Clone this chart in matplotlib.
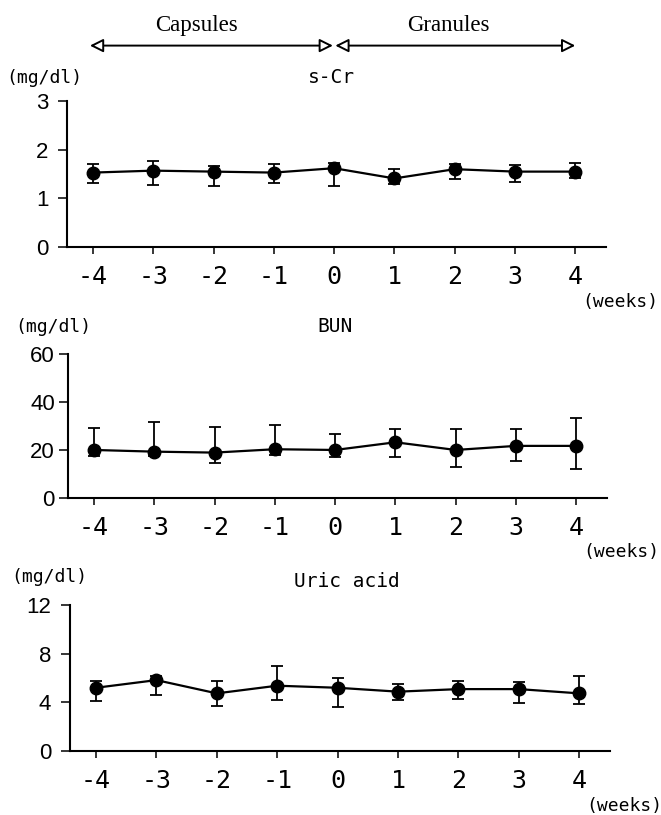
import matplotlib
matplotlib.use("Agg")
import matplotlib.pyplot as plt

# weeks relative to switch from capsules to granules
weeks = [-4, -3, -2, -1, 0, 1, 2, 3, 4]

scr_mean = [1.53, 1.57, 1.55, 1.53, 1.62, 1.41, 1.60, 1.55, 1.55]
scr_upper = [1.70, 1.77, 1.66, 1.70, 1.72, 1.60, 1.70, 1.68, 1.73]
scr_lower = [1.32, 1.27, 1.25, 1.31, 1.25, 1.30, 1.39, 1.33, 1.42]

bun_mean = [20.0, 19.3, 18.9, 20.3, 20.0, 23.2, 20.0, 21.7, 21.7]
bun_upper = [29.3, 31.8, 29.4, 30.4, 26.7, 28.6, 28.8, 28.6, 33.5]
bun_lower = [17.5, 17.5, 14.7, 17.8, 17.0, 17.0, 13.1, 15.4, 12.1]

ua_mean = [5.20, 5.83, 4.74, 5.37, 5.20, 4.88, 5.09, 5.09, 4.74]
ua_upper = [5.78, 6.16, 5.78, 6.98, 5.97, 5.48, 5.78, 5.64, 6.16]
ua_lower = [4.11, 4.60, 3.70, 4.19, 3.64, 4.19, 4.27, 3.92, 3.84]

MONO = ["DejaVu Sans Mono"]
SANS = ["Liberation Sans", "DejaVu Sans"]
SERIF = ["Liberation Serif", "DejaVu Serif"]


def panel(fig, rect, mean, lower, upper, ymax, yticks, title, title_x, title_y,
          unit_x, unit_y, ypad):
    ax = fig.add_axes(rect)
    yerr = [[m - lo for m, lo in zip(mean, lower)],
            [hi - m for m, hi in zip(mean, upper)]]
    ax.errorbar(weeks, mean, yerr=yerr, fmt="o-", color="black", ms=9,
                lw=1.6, elinewidth=1.3, capsize=4, capthick=1.3)
    ax.set_xlim(-4.43, 4.51)
    ax.set_ylim(0, ymax)
    ax.set_yticks(yticks)
    ax.set_yticklabels([str(t) for t in yticks], family=SANS, fontsize=16)
    ax.set_xticks(weeks)
    ax.set_xticklabels([str(w) for w in weeks], family=MONO, fontsize=18)
    for s in ["top", "right"]:
        ax.spines[s].set_visible(False)
    for s in ["left", "bottom"]:
        ax.spines[s].set_linewidth(1.5)
    ax.tick_params(axis="x", length=5, width=1.1, pad=8)
    ax.tick_params(axis="y", length=6.5, width=1.1, pad=ypad)
    ax.text(title_x, title_y, title, transform=ax.get_xaxis_transform(),
            ha="center", va="center", family=MONO, fontsize=14)
    ax.text(unit_x, unit_y, "(mg/dl)", transform=ax.transAxes,
            ha="center", va="center", family=MONO, fontsize=13)
    ax.text(1.097, -0.375, "(weeks)", transform=ax.transAxes,
            ha="right", va="center", family=MONO, fontsize=13)
    return ax


def main():
    fig = plt.figure(figsize=(6.61, 8.15), dpi=100)

    ax1 = panel(fig, [0.1014, 0.6969, 0.8154, 0.1791], scr_mean, scr_lower,
                scr_upper, 3, [0, 1, 2, 3], "s-Cr", -0.05, 1.158,
                -0.043, 1.158, 7)
    panel(fig, [0.1029, 0.3890, 0.8154, 0.1767], bun_mean, bun_lower,
          bun_upper, 60, [0, 20, 40, 60], "BUN", 0, 1.19, -0.028, 1.19, 3)
    panel(fig, [0.1059, 0.0785, 0.8170, 0.1791], ua_mean, ua_lower,
          ua_upper, 12, [0, 4, 8, 12], "Uric acid", 0.15, 1.16,
          -0.039, 1.19, 7)

    # treatment period arrows above the top panel
    tr = ax1.get_xaxis_transform()
    arrow = dict(arrowstyle="<|-|>", fc="white", ec="black", lw=1.4,
                 shrinkA=0, shrinkB=0, mutation_scale=20)
    ax1.annotate("", xy=(-4.05, 1.38), xytext=(-0.02, 1.38), xycoords=tr,
                 textcoords=tr, arrowprops=arrow, annotation_clip=False)
    ax1.annotate("", xy=(0.02, 1.38), xytext=(4.0, 1.38), xycoords=tr,
                 textcoords=tr, arrowprops=arrow, annotation_clip=False)
    ax1.text(-2.29, 1.52, "Capsules", transform=tr, ha="center",
             va="center", family=SERIF, fontsize=16.5)
    ax1.text(1.89, 1.52, "Granules", transform=tr, ha="center",
             va="center", family=SERIF, fontsize=16.5)

    fig.savefig("out.png", dpi=100)


if __name__ == "__main__":
    main()
